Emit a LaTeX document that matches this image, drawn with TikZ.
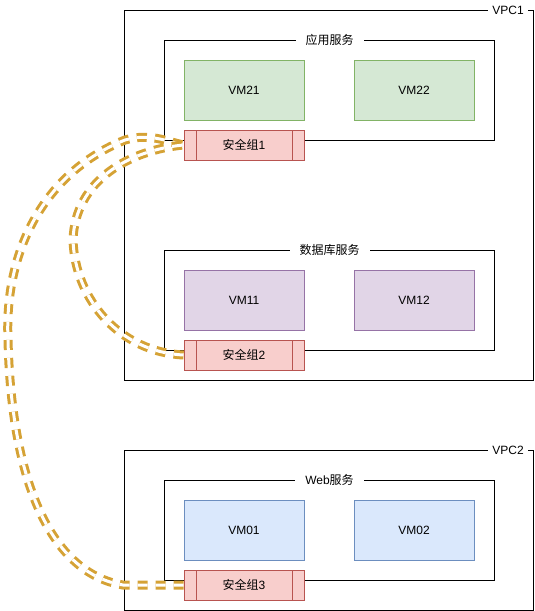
\documentclass[tikz,border=0pt]{standalone}
\usepackage{fontspec}
\setmainfont{Liberation Sans}
\newfontfamily\cjk{Noto Sans CJK SC}
\definecolor{linkc}{HTML}{D5A235}
\definecolor{greenf}{HTML}{D5E8D4}
\definecolor{greend}{HTML}{82B366}
\definecolor{purplef}{HTML}{E1D5E7}
\definecolor{purpled}{HTML}{9673A6}
\definecolor{bluef}{HTML}{DAE8FC}
\definecolor{blued}{HTML}{6C8EBF}
\definecolor{redf}{HTML}{F8CECC}
\definecolor{redd}{HTML}{B85450}
\tikzset{
	group/.style={draw, line width=1pt, anchor=north west, inner sep=0pt},
	tag/.style={fill=white, inner xsep=4pt, inner ysep=1pt},
	svc/.style={fill=white, inner xsep=10pt, inner ysep=1pt},
	vm/.style={draw, minimum width=120pt, minimum height=60pt, line width=0.8pt},
	sg/.style={draw=redd, fill=redf, minimum width=120pt, minimum height=30pt, line width=0.8pt,
		path picture={
			\draw[redd, line width=0.8pt] ([xshift=12pt]path picture bounding box.north west) -- ([xshift=12pt]path picture bounding box.south west);
			\draw[redd, line width=0.8pt] ([xshift=-12pt]path picture bounding box.north east) -- ([xshift=-12pt]path picture bounding box.south east);
		}},
	link/.style={draw=linkc, line width=3pt, double=white, double distance=3pt, dash pattern=on 10pt off 8pt}
}
\begin{document}
\begin{tikzpicture}[x=1pt, y=-1pt, font=\fontsize{12}{14}\selectfont]
	\useasboundingbox (0, 0) rectangle (535, 611);
	\node[group, minimum width=409pt, minimum height=370pt] (vpc1) at (124, 10) {};
	\node[tag, anchor=east] (vpc1l) at ([xshift=-6pt]vpc1.north east) {VPC1};
	\node[group, minimum width=330pt, minimum height=100pt] (app) at (164, 40) {};
	\node[svc] (appl) at (app.north) {{\cjk 应用服务}};
	\node[vm, draw=greend, fill=greenf] at (244, 90) (vm21) {VM21};
	\node[vm, draw=greend, fill=greenf] at (414, 90) (vm22) {VM22};
	\node[sg] at (244, 145) (sg1) {{\cjk 安全组}1};
	\node[group, minimum width=330pt, minimum height=100pt] (db) at (164, 250) {};
	\node[svc] (dbl) at (db.north) {{\cjk 数据库服务}};
	\node[vm, draw=purpled, fill=purplef] at (244, 300) (vm11) {VM11};
	\node[vm, draw=purpled, fill=purplef] at (414, 300) (vm12) {VM12};
	\node[sg] at (244, 355) (sg2) {{\cjk 安全组}2};
	\node[group, minimum width=409pt, minimum height=160pt] (vpc2) at (124, 450) {};
	\node[tag, anchor=east] (vpc2l) at ([xshift=-6pt]vpc2.north east) {VPC2};
	\node[group, minimum width=330pt, minimum height=100pt] (web) at (164, 480) {};
	\node[svc] (webl) at (web.north) {Web{\cjk 服务}};
	\node[vm, draw=blued, fill=bluef] at (244, 530) (vm01) {VM01};
	\node[vm, draw=blued, fill=bluef] at (414, 530) (vm02) {VM02};
	\node[sg] at (244, 585) (sg3) {{\cjk 安全组}3};
	\coordinate (c3) at (123, 585);
	\draw[link] (sg3.west) -- (c3) .. controls (60, 575) and (12, 500) .. (8, 340)
		.. controls (4, 250) and (45, 172) .. (125, 140)
		.. controls (150, 133) and (165, 141) .. (sg1.west);
	\draw[link] (sg2.west) .. controls (120, 352) and (75, 300) .. (73, 240)
		.. controls (75, 180) and (130, 150) .. (sg1.west);
\end{tikzpicture}
\end{document}
